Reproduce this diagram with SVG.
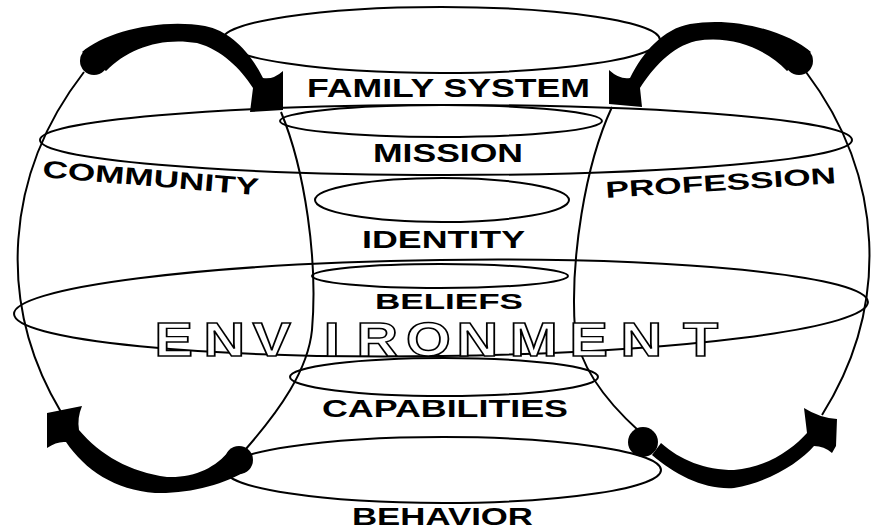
<svg xmlns="http://www.w3.org/2000/svg" width="874" height="529" viewBox="0 0 874 529">
<style>
.ln{fill:none;stroke:#000;stroke-width:2}
.ar{fill:#000;stroke:none}
.lb{font-family:"Liberation Sans",Arial,sans-serif;font-weight:bold;fill:#000}
.env{font-family:"Liberation Sans",Arial,sans-serif;font-weight:bold;font-size:48px;fill:#fff;stroke:#000;stroke-width:1.5}
</style>
<rect width="874" height="529" fill="#fff"/>
<g id="connectors">
<path class="ln" d="M 84,72 A 427 349 0 0 0 61,412"/>
<path class="ln" d="M 806,72 A 427 349 0 0 1 822,415"/>
<path class="ln" d="M 281,112 C 305,170 318,260 312,330 C 308,370 280,410 245,450"/>
<path class="ln" d="M 612,107 C 585,165 570,260 575,330 C 580,370 610,405 640,432"/>
<g id="arrow-tl">
<circle class="ar" cx="94" cy="61" r="14"/>
<path class="ar" d="M 82,52 C 105,32 160,18 205,26 C 230,31 250,52 263,78 Q 273,80 283,71 L 283,110 L 250,112 L 253,88 C 240,68 222,50 197,43 C 162,37 128,48 106,71 Z"/>
</g>
<g id="arrow-tr">
<circle class="ar" cx="799" cy="61" r="14"/>
<path class="ar" d="M 811,52 C 788,32 735,16 690,24 C 663,29 643,52 630,78 Q 620,80 609,70 L 609,104 L 642,107 L 640,88 C 653,68 671,47 696,41 C 731,35 765,48 787,71 Z"/>
</g>
<g id="arrow-bl">
<circle class="ar" cx="239" cy="460" r="14"/>
<path class="ar" d="M 47,413 L 82,406 Q 77,418 79,430 C 100,455 130,472 167,477 C 195,478 215,468 230,450 L 248,470 C 225,484 190,494 155,493 C 115,490 85,470 66,442 Q 57,441 47,448 Z"/>
</g>
<g id="arrow-br">
<circle class="ar" cx="643" cy="442" r="15"/>
<path class="ar" d="M 804,408 Q 820,418 837,419 L 836,446 L 832,453 Q 824,446 814,446 C 800,462 770,482 734,488 C 705,490 675,475 652,455 L 661,443 C 680,460 705,470 734,470 C 765,468 792,450 807,433 Z"/>
</g>
</g>
<g id="family-system">
<ellipse class="ln" cx="441" cy="40" rx="219" ry="33"/>
<text class="lb" x="307" y="97" font-size="25" textLength="283" lengthAdjust="spacingAndGlyphs">FAMILY SYSTEM</text>
</g>
<g id="community-profession">
<ellipse class="ln" cx="446" cy="140" rx="406" ry="35"/>
<text class="lb" x="42" y="177" font-size="24" textLength="217" lengthAdjust="spacingAndGlyphs" transform="rotate(4.8 42 177)">COMMUNITY</text>
<text class="lb" x="606" y="198" font-size="23" textLength="231" lengthAdjust="spacingAndGlyphs" transform="rotate(-3.7 606 198)">PROFESSION</text>
</g>
<g id="mission">
<ellipse class="ln" cx="441" cy="121" rx="161" ry="16"/>
<text class="lb" x="373" y="162" font-size="25" textLength="150" lengthAdjust="spacingAndGlyphs">MISSION</text>
</g>
<g id="identity">
<ellipse class="ln" cx="442" cy="200" rx="127" ry="22"/>
<text class="lb" x="362" y="248" font-size="24" textLength="163" lengthAdjust="spacingAndGlyphs">IDENTITY</text>
</g>
<g id="environment">
<ellipse class="ln" cx="441" cy="308" rx="427" ry="48" transform="rotate(-0.8 441 308)"/>
</g>
<g id="beliefs">
<ellipse class="ln" cx="440" cy="276" rx="128" ry="12"/>
<text class="lb" x="375" y="309" font-size="22" textLength="148" lengthAdjust="spacingAndGlyphs">BELIEFS</text>
</g>
<g id="environment-label">
<text class="env" transform="scale(1.2 1)" y="356" x="128.75 169.6 210.4 269.7 297 338.3 380.4 424.7 474.6 517.1 569.2">ENVIRONMENT</text>
</g>
<g id="capabilities">
<ellipse class="ln" cx="444" cy="377" rx="154" ry="19"/>
<text class="lb" x="322" y="417" font-size="24" textLength="246" lengthAdjust="spacingAndGlyphs">CAPABILITIES</text>
</g>
<g id="behavior">
<ellipse class="ln" cx="443" cy="470" rx="218" ry="33"/>
<text class="lb" x="352" y="525" font-size="24" textLength="181" lengthAdjust="spacingAndGlyphs">BEHAVIOR</text>
</g>
</svg>
